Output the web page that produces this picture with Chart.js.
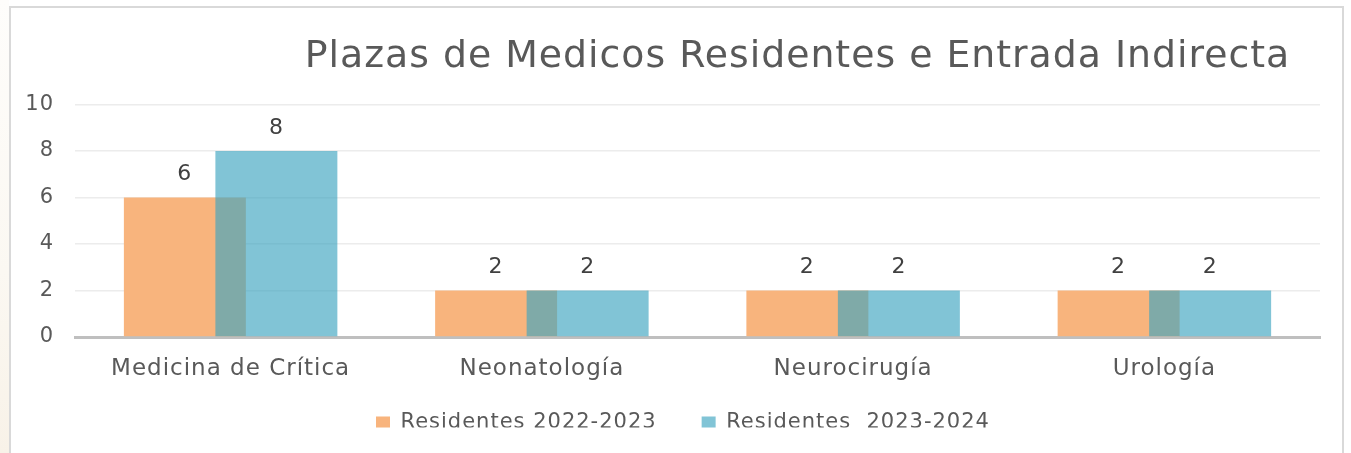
<!DOCTYPE html>
<html lang="es">
<head>
    <meta charset="UTF-8">
    <title>Plazas de Medicos Residentes e Entrada Indirecta</title>
    <script src="https://cdn.jsdelivr.net/npm/chart.js"></script>
    <style>
        html, body { margin: 0; padding: 0; background: #fff; overflow: hidden; }
        #wrap { position: relative; width: 1351px; height: 453px; }
        #fondo { position: absolute; left: 0; top: 0; width: 9px; height: 453px;
                 background: linear-gradient(180deg, #fefdfb 0%, #fbf8f2 60%, #f8f2e8 100%); }
        #marco { position: absolute; left: 9px; top: 6px; width: 1331px; height: 470px;
                 border: 2px solid #D9D9D9; pointer-events: none; }
        canvas { position: absolute; left: 0; top: 0; }
    </style>
</head>
<body>
<div id="wrap">
    <div id="fondo"></div>
    <canvas id="myChart" width="1351" height="453"></canvas>
    <div id="marco"></div>
</div>
<script>
    const titulo = 'Plazas de Medicos Residentes e Entrada Indirecta';
    const categorias = ['Medicina de Crítica', 'Neonatología', 'Neurocirugía', 'Urología'];
    const residentes2223 = [6, 2, 2, 2];
    const residentes2324 = [8, 2, 2, 2];
    const series = ['Residentes 2022-2023', 'Residentes  2023-2024'];
    const ticksY = [0, 2, 4, 6, 8, 10];

    Chart.defaults.font.family = "'DejaVu Sans', sans-serif";
    Chart.defaults.color = '#595959';

    // espaciado de letras parecido a la fuente original
    const espaciado = {
        id: 'espaciado',
        beforeUpdate(chart) { chart.ctx.letterSpacing = '1px'; },
        beforeLayout(chart) { chart.ctx.letterSpacing = '1px'; },
        beforeDraw(chart) { chart.ctx.letterSpacing = '1px'; }
    };

    // posicion del titulo y la leyenda como en el original
    const posiciones = {
        id: 'posiciones',
        afterLayout(chart) {
            if (chart.titleBlock) {
                chart.titleBlock.left = 275;
                chart.titleBlock.right = 1320;
            }
            if (chart.legend) {
                const h = chart.legend.height;
                chart.legend.left = 331;
                chart.legend.top = 367.5;
                chart.legend.bottom = 367.5 + h;
            }
        }
    };

    // la serie azul se pinta encima de la naranja, con etiquetas de valor
    const barrasYEtiquetas = {
        id: 'barrasYEtiquetas',
        beforeDatasetDraw(chart, args) {
            if (args.index === 1) return false;
        },
        afterDatasetsDraw(chart) {
            const c = chart.ctx;
            chart.getDatasetMeta(1).controller.draw();
            c.save();
            c.font = "22px 'DejaVu Sans', sans-serif";
            c.fillStyle = '#404040';
            c.textAlign = 'center';
            c.textBaseline = 'middle';
            chart.data.datasets.forEach((ds, i) => {
                chart.getDatasetMeta(i).data.forEach((bar, j) => {
                    c.fillText(String(ds.data[j]), bar.x, bar.y - 23);
                });
            });
            c.restore();
        }
    };

    const ctx = document.getElementById('myChart').getContext('2d');
    const myChart = new Chart(ctx, {
        type: 'bar',
        data: {
            labels: categorias,
            datasets: [
                {
                    label: series[0],
                    data: residentes2223,
                    backgroundColor: '#F8B47D',
                    borderWidth: 0,
                    categoryPercentage: 0.588,
                    barPercentage: 1.333
                },
                {
                    label: series[1],
                    data: residentes2324,
                    backgroundColor: 'rgba(61, 164, 192, 0.65)',
                    borderWidth: 0,
                    categoryPercentage: 0.588,
                    barPercentage: 1.333
                }
            ]
        },
        options: {
            responsive: false,
            animation: false,
            devicePixelRatio: 1,
            layout: { padding: { left: 0, right: 31, top: 0, bottom: 0 } },
            plugins: {
                tooltip: { enabled: false },
                title: {
                    display: true,
                    text: titulo,
                    color: '#595959',
                    font: { size: 37.8, weight: 'normal' },
                    padding: { top: 34, bottom: 25 }
                },
                legend: {
                    position: 'bottom',
                    align: 'start',
                    maxHeight: 60,
                    labels: {
                        boxWidth: 14,
                        boxHeight: 13,
                        padding: 45,
                        color: '#595959',
                        font: { size: 21 }
                    }
                }
            },
            scales: {
                x: {
                    grid: { drawOnChartArea: false, drawTicks: false },
                    border: { display: true, color: '#BFBFBF', width: 3 },
                    ticks: { padding: 18, color: '#595959', font: { size: 23 } },
                    afterFit(scale) { scale.height = 56; }
                },
                y: {
                    min: 0,
                    max: 10,
                    afterBuildTicks(scale) { scale.ticks = ticksY.map(v => ({ value: v })); },
                    grid: {
                        drawTicks: false,
                        lineWidth: 1.5,
                        color: c => c.tick && c.tick.value === 0 ? 'rgba(0,0,0,0)' : '#ECECEC'
                    },
                    border: { display: false },
                    ticks: { padding: 21, color: '#595959', font: { size: 21 } },
                    afterFit(scale) { scale.width = 75; }
                }
            }
        },
        plugins: [espaciado, posiciones, barrasYEtiquetas]
    });
</script>
</body>
</html>
